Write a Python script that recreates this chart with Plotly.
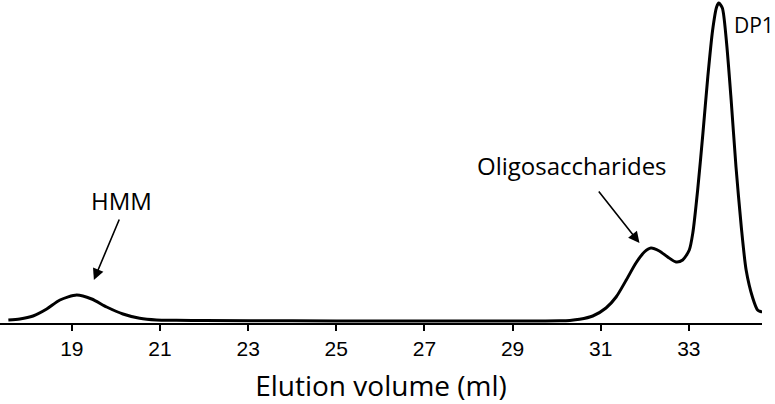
import plotly.graph_objects as go

# Elution volume (ml) and detector response (arbitrary units)
volume = [17.56, 17.82, 18.12, 18.43, 18.73, 19.11, 19.45, 19.79, 20.16, 20.54, 20.92,
          21.37, 22.0, 24.0, 26.0, 28.0, 29.5, 30.07, 30.3, 30.52, 30.82, 31.12, 31.35,
          31.58, 31.80, 31.99, 32.14, 32.33, 32.52, 32.71, 32.86, 33.01, 33.09,
          33.20, 33.32, 33.43, 33.54, 33.63, 33.68, 33.76, 33.85, 33.96, 34.07,
          34.19, 34.30, 34.45, 34.56, 34.64, 34.66]
response = [1, 2, 5, 12, 21, 26, 22, 14, 7, 2.7, 1,
            0.7, 0.4, 0.2, 0, 0, 0, 0.2, 0.6, 1.7, 5, 13, 24,
            41, 58, 69, 73, 70, 64, 59, 61, 71, 88,
            131, 188, 244, 291, 314, 318, 313, 281, 221, 154,
            94, 51, 23, 11, 9.3, 10.5]

tick_vals = [19, 21, 23, 25, 27, 29, 31, 33]
tick_text = ["19", "21", "23", "25", "27", "29", "31", "33"]

label_font = dict(family="Open Sans", size=24, color="black")

fig = go.Figure()
fig.add_trace(go.Scatter(
    x=volume, y=response, mode="lines",
    line=dict(color="black", width=3, shape="spline", smoothing=0.7),
    hoverinfo="skip", showlegend=False,
))

annotations = [
    dict(x=19.50, y=41, ax=20.09, ay=103, axref="x", ayref="y", xref="x", yref="y",
         text="", showarrow=True, arrowhead=2, arrowsize=1.4, arrowwidth=1.6, arrowcolor="black"),
    dict(x=31.88, y=78, ax=30.93, ay=131, axref="x", ayref="y", xref="x", yref="y",
         text="", showarrow=True, arrowhead=2, arrowsize=1.4, arrowwidth=1.6, arrowcolor="black"),
    dict(x=20.13, y=121, xref="x", yref="y", text="HMM", showarrow=False,
         font=label_font, xanchor="center", yanchor="middle"),
    dict(x=30.36, y=156, xref="x", yref="y", text="Oligosaccharides", showarrow=False,
         font=label_font, xanchor="center", yanchor="middle"),
    dict(x=33.99, y=296, xref="x", yref="y", text="DP1", showarrow=False,
         font=dict(family="Open Sans", size=21, color="black"),
         xanchor="left", yanchor="middle"),
]

fig.update_layout(
    width=775, height=404,
    margin=dict(l=0, r=13, t=0, b=81, autoexpand=False),
    paper_bgcolor="white", plot_bgcolor="white",
    annotations=annotations,
    xaxis=dict(
        range=[17.37, 34.66], automargin=False,
        tickmode="array", tickvals=tick_vals, ticktext=tick_text,
        ticks="outside", ticklen=6, tickwidth=1.5, tickcolor="black",
        showline=True, linecolor="black", linewidth=1.5,
        showgrid=False, zeroline=False,
        tickfont=dict(family="Arial, Liberation Sans", size=21, color="black"),
        title=dict(text="Elution volume (ml)", standoff=18,
                   font=dict(family="Open Sans", size=28, color="black")),
    ),
    yaxis=dict(range=[-2, 321], visible=False, showgrid=False, zeroline=False,
               automargin=False),
)

fig.write_html("out.html", config={"displayModeBar": False},
               post_script="document.body.style.margin='0';")
